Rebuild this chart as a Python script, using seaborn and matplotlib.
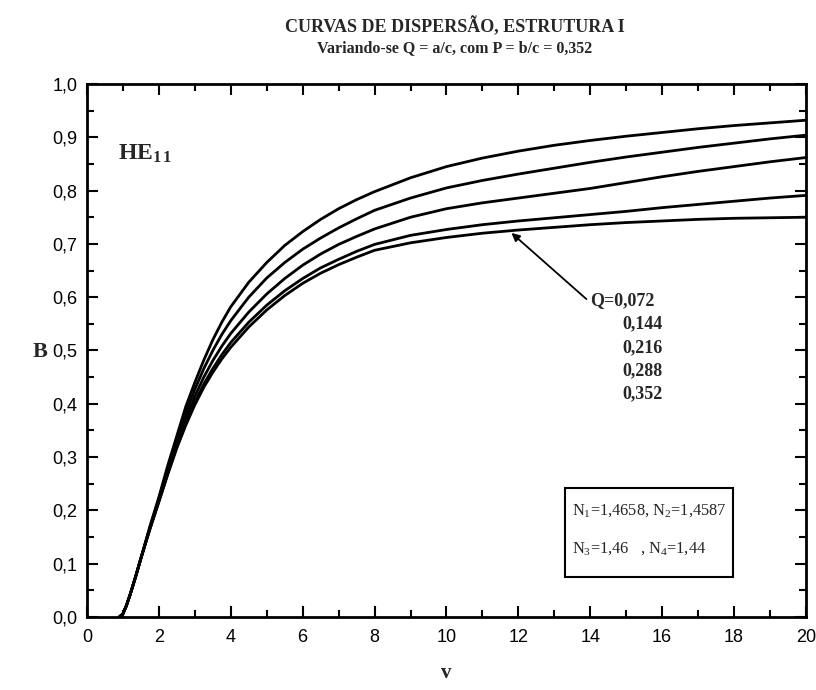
import numpy as np
import pandas as pd
import matplotlib
matplotlib.use("Agg")
import matplotlib.pyplot as plt
import seaborn as sns
from matplotlib.ticker import MultipleLocator, FuncFormatter
from matplotlib.patches import Rectangle

V = [0.9, 1.0, 1.1, 1.2, 1.35, 1.5, 1.75, 2.0, 2.25, 2.5, 2.75, 3.0, 3.25, 3.5, 3.75, 4.0,
     4.5, 5.0, 5.5, 6.0, 6.5, 7.0, 7.5, 8.0, 9.0, 10, 11, 12, 13, 14, 15, 16, 17, 18, 19, 20]
B_q0352 = [0, 0.006, 0.022, 0.042, 0.075, 0.11, 0.17, 0.225, 0.285, 0.34, 0.395, 0.44, 0.482, 0.52, 0.553, 0.582,
           0.628, 0.665, 0.697, 0.723, 0.746, 0.766, 0.783, 0.798, 0.824, 0.845, 0.861, 0.874, 0.885, 0.894, 0.902, 0.909, 0.916, 0.922, 0.927, 0.932]
B_q0288 = [0, 0.006, 0.022, 0.042, 0.075, 0.11, 0.168, 0.222, 0.28, 0.333, 0.383, 0.427, 0.466, 0.5, 0.53, 0.556,
           0.6, 0.636, 0.665, 0.69, 0.711, 0.73, 0.747, 0.763, 0.786, 0.805, 0.819, 0.831, 0.842, 0.853, 0.863, 0.872, 0.881, 0.889, 0.897, 0.904]
B_q0216 = [0, 0.006, 0.022, 0.042, 0.075, 0.11, 0.166, 0.219, 0.275, 0.326, 0.372, 0.414, 0.45, 0.481, 0.508, 0.532,
           0.572, 0.606, 0.635, 0.66, 0.681, 0.699, 0.714, 0.728, 0.75, 0.766, 0.777, 0.786, 0.795, 0.804, 0.815, 0.826, 0.836, 0.845, 0.854, 0.862]
B_q0144 = [0, 0.006, 0.022, 0.042, 0.075, 0.11, 0.165, 0.217, 0.27, 0.32, 0.364, 0.403, 0.437, 0.466, 0.492, 0.515,
           0.553, 0.585, 0.612, 0.635, 0.655, 0.671, 0.686, 0.699, 0.716, 0.727, 0.736, 0.743, 0.749, 0.755, 0.761, 0.768, 0.774, 0.78, 0.786, 0.791]
B_q0072 = [0, 0.006, 0.022, 0.042, 0.075, 0.11, 0.165, 0.216, 0.268, 0.317, 0.36, 0.398, 0.431, 0.459, 0.484, 0.506,
           0.544, 0.576, 0.603, 0.626, 0.645, 0.661, 0.675, 0.688, 0.702, 0.712, 0.72, 0.726, 0.731, 0.736, 0.74, 0.743, 0.746, 0.748, 0.749, 0.75]
Q_labels = ["0,072", "0,144", "0,216", "0,288", "0,352"]

series = [B_q0072, B_q0144, B_q0216, B_q0288, B_q0352]
df = pd.concat([pd.DataFrame({"V": V, "B": b, "Q": q}) for q, b in zip(Q_labels, series)], ignore_index=True)

sns.set_theme(style="ticks")
plt.rcParams["font.family"] = ["Liberation Sans", "DejaVu Sans"]
plt.rcParams["mathtext.fontset"] = "custom"
plt.rcParams["mathtext.rm"] = "Liberation Serif"
plt.rcParams["mathtext.it"] = "Liberation Serif:italic"
plt.rcParams["mathtext.bf"] = "Liberation Serif:bold"

fig = plt.figure(figsize=(8.16, 6.9), dpi=100)
ax = fig.add_axes([0.1066, 0.1058, 0.8811, 0.7725])
sns.lineplot(data=df, x="V", y="B", hue="Q", palette=["black"] * 5, linewidth=2.0,
             legend=False, ax=ax, estimator=None, sort=True)

ax.set_xlim(0, 20)
ax.set_ylim(0, 1.0)
ax.xaxis.set_major_locator(MultipleLocator(2))
ax.xaxis.set_minor_locator(MultipleLocator(1))
ax.yaxis.set_major_locator(MultipleLocator(0.1))
ax.yaxis.set_minor_locator(MultipleLocator(0.05))
ax.yaxis.set_major_formatter(FuncFormatter(lambda v, p: f"{v:.1f}".replace(".", ",")))
ax.tick_params(which="both", direction="in", top=True, right=True, colors="black",
               labelsize=13, width=1.5)
ax.tick_params(which="major", length=8)
ax.tick_params(axis="x", which="major", pad=9)
ax.tick_params(axis="y", which="major", pad=7)
ax.tick_params(which="minor", length=5)
for s in ax.spines.values():
    s.set_linewidth(2)
    s.set_color("black")

serif = ["Liberation Serif", "DejaVu Serif"]
ax.set_xlabel("v", fontsize=15, fontweight="bold", family=serif, labelpad=12)
ax.set_ylabel("B", fontsize=16, fontweight="bold", family=serif, rotation=0, va="center", ha="center")
ax.yaxis.set_label_coords(-0.065, 0.497)

fig.text(0.557, 0.962, "CURVAS DE DISPERSÃO, ESTRUTURA I", ha="center", va="center",
         fontsize=13, fontweight="bold", family=serif)
fig.text(0.557, 0.930, "Variando-se Q = a/c, com P = b/c = 0,352", ha="center", va="center",
         fontsize=11.5, fontweight="bold", family=serif)

ax.text(0.043, 0.868, r"$\mathbf{HE}_{\mathbf{1\,1}}$", transform=ax.transAxes, fontsize=17,
        va="center", ha="left")

# annotation for Q values
ax.annotate("", xy=(11.75, 0.724), xytext=(13.95, 0.593),
            arrowprops=dict(arrowstyle="-|>", color="black", lw=1.3, mutation_scale=12))
ax.text(14.0, 0.593, "Q=" + Q_labels[0], ha="left", va="center", fontsize=13,
        fontweight="bold", family=serif)
for i, q in enumerate(Q_labels[1:], start=1):
    ax.text(16.0, 0.593 - 0.0435 * i, q, ha="right", va="center", fontsize=13,
            fontweight="bold", family=serif)

ax.add_patch(Rectangle((0.665, 0.075), 0.233, 0.167, transform=ax.transAxes,
                       facecolor="white", edgecolor="black", lw=1.5, zorder=3))
ax.text(0.674, 0.199, r"N$_1$=1,4658, N$_2$=1,4587", transform=ax.transAxes,
        ha="left", va="center", fontsize=11.8, family=serif, zorder=4)
ax.text(0.674, 0.129, r"N$_3$=1,46   , N$_4$=1,44", transform=ax.transAxes,
        ha="left", va="center", fontsize=11.8, family=serif, zorder=4)

fig.savefig("out.png", dpi=100, facecolor="white")
